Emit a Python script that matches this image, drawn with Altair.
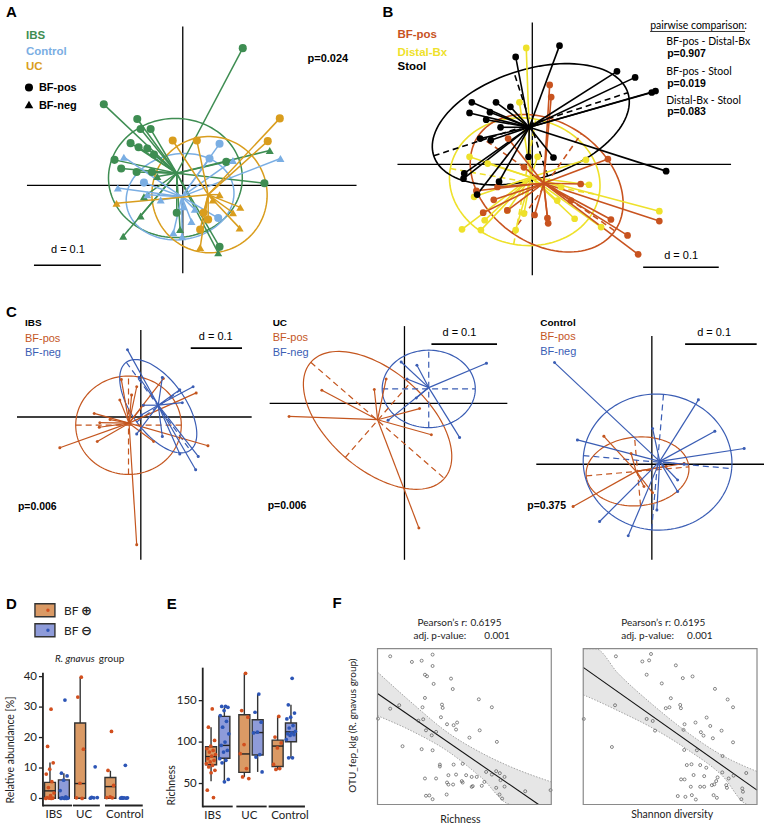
import json
import numpy as np
import pandas as pd
import altair as alt

# ====================== DATA ======================
# Panel A: PCoA coordinates (units of 0.01)
A_groups = ["IBS", "Control", "UC"]
A_colors = ["#3e8d52", "#7aaee3", "#d99d1d"]
A_IBS_pos_x = [8.97, -11.8, -6.8, -6.3, -4.8, -7.8, -6.6, -5.3, -4.3, -10.2, -9.2, -6.9, -4.6, 6.5, 12.2, 5.5, -0.9]
A_IBS_pos_y = [20.5, 12.1, 9.9, 8.4, 8.4, 6.3, 5.7, 5.5, 4.6, 3.8, 2.5, 2.0, 2.0, 3.5, 0.3, -9.2, -4.1]
A_IBS_neg_x = [13.0, -8.9, -6.3, 5.3, -0.4, -5.8, -3.8]
A_IBS_neg_y = [5.2, -7.6, -4.6, -10.1, -6.6, -1.7, 1.3]
A_Control_pos_x = [5.5, 4.0, -5.8, 5.3]
A_Control_pos_y = [6.2, 4.0, 0.4, -4.9]
A_Control_neg_x = [14.6, -8.8, -9.7, -5.3, 7.5, -1.4, -0.1, 1.3, 0.1, 1.8, -3.3]
A_Control_neg_y = [4.0, 4.2, -0.4, -1.4, 3.7, -7.1, -7.7, -5.4, -3.2, -3.6, -2.2]
A_UC_pos_x = [14.5, -1.5, 2.1, 12.7, 2.6, 3.8, 3.1]
A_UC_pos_y = [10.0, 6.7, 6.7, 6.6, -6.6, -5.1, -4.1]
A_UC_neg_x = [-9.9, 8.6, 8.5, 2.6, 5.5, 4.5, 7.5]
A_UC_neg_y = [-2.7, -3.3, -6.4, -9.3, -1.4, -2.2, -4.1]
A_centroids = {"IBS": (-0.9, 1.8), "Control": (-0.15, -1.7), "UC": (3.8, -1.4)}
A_ellipses = {"IBS": (-1.1, 1.1, 10.0, 8.9, 0), "Control": (-0.4, -1.7, 8.1, 6.4, 10), "UC": (4.0, -1.4, 8.6, 8.7, 20)}

# Panel B
B_groups = ["Distal-Bx", "BF-pos", "Stool"]
B_colors = ["#eee12b", "#c8531f", "#000000"]
B_stool_x = [3.6, -2.2, 11.2, 13.6, 15.8, 16.3, -8.0, -4.8, -2.9, -8.3, -5.6, -6.1, -4.2, -6.9, -5.5, -0.5, 2.8, 17.7, -9.0, -9.1, -7.3, -4.4]
B_stool_y = [15.7, 14.2, 12.3, 11.5, 9.5, 9.7, 8.2, 8.2, 7.6, 6.8, 6.9, 5.9, 4.9, 3.4, 3.2, 1.0, 0.9, -0.9, -1.2, -1.9, -4.0, -2.3]
B_distal_x = [-0.8, -1.7, -8.3, -5.9, 7.1, 7.5, 3.8, 16.8, 9.1, 5.6, -1.1, -2.2, -6.3, -6.8, -9.3, -7.7, 3.3, -3.3, 0.7]
B_distal_y = [15.4, 8.2, 1.0, 0.1, 0.6, -2.7, -3.0, -6.2, -8.3, -7.2, -6.5, -8.7, -7.4, -8.7, -8.6, -4.3, -4.8, -6.1, 1.0]
B_pos_x = [2.3, 2.5, -3.2, 10.0, 6.4, 10.4, 16.8, 12.6, 14.0, 0.3, 2.0, 2.1, -3.3, -5.1, -6.5, -7.4, 5.1, -4.6, -1.1]
B_pos_y = [10.5, 8.9, 3.4, 0.7, -2.6, -7.3, -7.5, -9.4, -11.9, -6.7, -7.1, -7.8, -6.1, -4.7, -6.4, -3.5, -4.8, -3.0, -0.4]
B_centroids = {"Stool": (-0.4, 4.9), "Distal-Bx": (-0.2, -1.7), "BF-pos": (1.5, -2.5)}
B_ellipses = {"Stool": (-0.2, 5.3, 13.5, 7.2, 18), "BF-pos": (1.9, -2.5, 11.0, 8.0, -35), "Distal-Bx": (-1.0, -2.3, 10.0, 8.4, -10)}

# Panel C
C_groups = ["BF-pos", "BF-neg"]
C_colors = ["#c4561f", "#3a5db4"]
C1_pos_x = [-15.8, -9.1, -8.0, -8.1, -8.5, -6.0, -3.8, -1.8, -0.8, 4.4, 2.5, 13.1, 10.8, -0.8, 0.5, -4.1]
C1_pos_y = [-6.0, 0.7, -1.1, -2.0, -4.8, -0.5, 7.3, 4.3, 5.9, 7.5, -4.8, -5.6, 4.7, -24.9, 2.3, 3.3]
C1_neg_x = [-2.6, -0.3, 4.2, 7.6, 10.2, 8.1, 0.1, -0.8, 4.2, 7.6, 11.2, 10.7, 0.5]
C1_neg_y = [13.1, 7.7, 7.7, 5.3, 5.9, 2.8, 0.4, -3.3, -3.8, -7.2, -7.7, -10.3, 2.3]
C1_centroids = {"BF-pos": (-2.3, -1.2), "BF-neg": (3.4, 2.3)}
C1_ellipses = {"BF-pos": (-2.4, -1.6, 10.3, 9.6, 0), "BF-neg": (3.4, 2.1, 10.6, 5.2, -54)}
C2_pos_x = [-17.6, -12.6, -4.6, -2.8, 2.3, 4.1, 2.2]
C2_pos_y = [-2.0, 2.0, 2.1, 3.7, -0.8, -4.8, -19.0]
C2_neg_x = [-0.5, 1.9, 0.4, 12.5, 8.4, -2.5, 1.8]
C2_neg_y = [6.3, 5.8, 3.7, 6.1, -5.2, -2.6, 0.8]
C2_centroids = {"BF-pos": (-4.1, -2.5), "BF-neg": (3.7, 2.4)}
C2_ellipses = {"BF-pos": (-4.1, -2.6, 13.5, 7.5, -41), "BF-neg": (3.7, 2.2, 7.1, 5.9, 0)}
C3_pos_x = [-11.0, -6.7, 0.1, 4.5, -2.9, 2.0, -1.1]
C3_pos_y = [-5.9, 3.9, -4.0, 0.1, 1.5, -0.3, -3.1]
C3_neg_x = [-13.6, -10.4, 0.1, 6.5, 8.8, 12.9, 3.6, 3.6, 0.7, -7.3, -3.3, 4.5]
C3_neg_y = [14.2, 3.4, 5.0, 9.0, 4.6, 2.2, -2.2, -3.8, -6.4, -8.0, -10.0, 0.0]
C3_centroids = {"BF-pos": (-2.2, -1.0), "BF-neg": (1.1, 0.4)}
C3_ellipses = {"BF-pos": (-2.0, -1.0, 7.2, 4.8, 5), "BF-neg": (0.8, 0.3, 10.4, 9.5, -5)}

# Panel D / E
BOX_GROUPS = ["IBS", "UC", "Control"]
D_vals = {
    ("IBS", "pos"): [29.3, 17.1, 11.7, 9.6, 8.0, 5.5, 3.6, 1.8, 0.9, 0.3, 0.1, 0.1, 0.0, 0.0],
    ("IBS", "neg"): [32.3, 8.3, 7.4, 6.0, 2.6, 0.5, 0.2, 0.1, 0.0, 0.0, 0.0],
    ("UC", "pos"): [39.8, 33.3, 16.2, 5.0, 0.2, 0.0],
    ("UC", "neg"): [10.4, 0.4, 0.3, 0.2, 0.1],
    ("Control", "pos"): [22.0, 9.2, 4.3, 0.5, 0.3, 0.2],
    ("Control", "neg"): [10.9, 0.3, 0.2, 0.2, 0.1, 0.1, 0.1],
}
# group, bf, lo, q1, median, q3, hi
D_stats = [("IBS", "pos", 0.0, 0.1, 2.5, 5.3, 11.8), ("IBS", "neg", 0.0, 0.1, 0.3, 6.1, 8.3),
           ("UC", "pos", 0.0, 0.1, 4.9, 24.8, 39.8), ("Control", "pos", 0.0, 0.1, 3.9, 6.9, 9.1)]
D_ticks = [0, 10, 20, 30, 40]
E_vals = {
    ("IBS", "pos"): [140, 118, 102, 95, 92, 90, 88, 85, 83, 80, 78, 76, 74, 72, 70, 66, 63, 42, 33],
    ("IBS", "neg"): [143, 143, 142, 138, 132, 125, 118, 110, 100, 96, 90, 88, 80, 78, 75, 55, 52],
    ("UC", "pos"): [183, 138, 130, 97, 86, 68, 58, 56],
    ("UC", "neg"): [158, 136, 124, 112, 111, 85, 82, 64],
    ("Control", "pos"): [131, 106, 99, 93, 73, 68, 67],
    ("Control", "neg"): [177, 145, 135, 130, 128, 120, 117, 113, 111, 110, 109, 108, 103, 81, 81],
}
E_stats = [("IBS", "pos", 52.8, 72.6, 82.5, 94.4, 118), ("IBS", "neg", 50.8, 80.5, 96, 131, 142),
           ("UC", "pos", 58, 63.5, 85.7, 133, 182.5), ("UC", "neg", 64, 84.5, 111.5, 127, 158),
           ("Control", "pos", 66.7, 70.6, 95.2, 102.4, 131.7), ("Control", "neg", 80.5, 100.4, 112.3, 123, 145)]
E_ticks = [50, 100, 150]

# Panel F (relative scales 0-100)
F1_x = [7.3, 19.8, 25.4, 31.7, 31.7, 27.3, 28.5, 42.3, 32.3, 43.3, 27.3, 58.3, 65.8, 12.5, 7.3, 25.9, 37.1, 37.5, 0.3,
        23.5, 26.3, 36.5, 27.9, 31.2, 33.7, 40.0, 43.8, 45.8, 45.2, 52.9, 58.8, 68.7, 14.4, 25.4, 31.7, 35.9, 35.9, 43.8,
        49.0, 27.3, 33.7, 40.8, 45.2, 51.0, 54.2, 40.8, 48.5, 49.0, 54.2, 54.8, 57.1, 60.0, 61.5, 62.5, 65.8, 68.3, 70.4,
        70.8, 73.1, 68.3, 73.1, 70.2, 71.7, 85.0, 27.9, 29.8, 31.7, 39.8, 99.6, 43.5, 40.0]
F1_y = [95.1, 91.5, 92.3, 96.2, 88.9, 83.3, 82.3, 80.8, 77.4, 74.1, 68.4, 67.5, 62.4, 63.7, 61.5, 62.4, 64.1, 62.0, 55.1,
        53.8, 54.7, 56.0, 47.6, 44.4, 46.6, 51.5, 50.9, 52.6, 48.1, 42.9, 47.6, 40.2, 37.4, 35.5, 34.8, 25.6, 24.4, 25.6,
        26.1, 16.7, 16.7, 18.8, 19.2, 18.8, 17.7, 12.8, 15.0, 14.1, 11.3, 11.8, 17.7, 12.0, 14.5, 20.9, 19.2, 21.4, 20.1,
        15.6, 17.7, 10.7, 11.5, 6.4, 3.8, 8.5, 5.6, 5.8, 3.4, 6.4, 9.2, 12.8, 14.1]
F1_band_x = [0, 20, 40, 60, 77, 100]
F1_band_lo = [57.0, 47.0, 34.5, 17.0, 0.0, 0.0]
F1_band_hi = [85.0, 65.0, 46.5, 33.0, 24.0, 14.5]
F1_fit_x = [0, 92.7]
F1_fit_y = [71.2, 0.0]
F2_x = [18.8, 34.0, 37.9, 39.0, 53.3, 36.5, 57.3, 62.9, 45.2, 75.8, 50.4, 83.1, 86.2, 47.5, 49.6, 55.8, 56.2, 18.3, 0.3,
        36.5, 40.0, 41.3, 58.3, 64.6, 71.0, 73.1, 67.7, 69.2, 74.6, 79.6, 86.2, 57.7, 65.4, 58.1, 16.5, 80.2, 59.6, 62.3,
        67.3, 70.8, 63.5, 69.6, 77.3, 80.0, 83.7, 86.5, 93.8, 56.3, 58.3, 76.5, 82.3, 82.7, 74.0, 75.4, 61.9, 67.3, 69.6,
        91.5, 91.9, 62.5, 58.8, 54.4, 64.8, 75.0, 76.9, 91.0]
F2_y = [95.1, 91.8, 92.5, 96.6, 89.3, 83.3, 81.1, 82.2, 77.7, 74.2, 68.2, 67.4, 62.4, 61.8, 62.4, 63.9, 61.8, 63.7, 54.9,
        54.9, 53.6, 47.4, 51.5, 52.6, 55.8, 50.4, 46.4, 44.2, 42.5, 47.4, 39.9, 47.9, 34.8, 35.0, 36.9, 31.1, 25.3, 25.8,
        25.3, 23.6, 18.9, 18.2, 17.4, 20.6, 16.7, 18.5, 20.2, 16.1, 16.1, 15.0, 12.4, 10.7, 12.4, 12.9, 11.4, 11.4, 11.4,
        10.3, 8.2, 6.0, 4.9, 5.4, 3.2, 6.0, 4.3, 3.4]
F2_band_x = [0, 7, 20, 40, 60, 80, 95, 100]
F2_band_lo = [70.4, 67.0, 60.2, 49.0, 35.2, 18.5, 0.0, 0.0]
F2_band_hi = [100.0, 100.0, 84.2, 64.0, 46.2, 31.5, 23.5, 21.2]
F2_fit_x = [0, 100]
F2_fit_y = [88.0, 9.2]

# ====================== HELPERS ======================
ONE = pd.DataFrame({"k": [0]})
ARIAL = "Liberation Sans"
MYRIAD = "Lato"


def txt(s, x, y, size=11, color="#000", bold=False, font=ARIAL, align="left",
        italic=False, angle=0, baseline="alphabetic"):
    kw = dict(align=align, baseline=baseline, fontSize=size, font=font, color=color,
              fontWeight="bold" if bold else "normal",
              fontStyle="italic" if italic else "normal")
    if angle:
        kw["angle"] = angle
    return alt.Chart(ONE).mark_text(**kw).encode(x=alt.value(x), y=alt.value(y), text=alt.value(s))


def pts_frame(specs):
    rows = []
    for grp, shp, xs, ys in specs:
        for u, v in zip(xs, ys):
            rows.append(dict(grp=grp, shp=shp, x=u, y=v))
    return pd.DataFrame(rows)


def ordination(pts, cents, ells, order, colors, W, H, ox, oy, ppu, vext, hext,
               bar_px, bar_y, psize, lw, dashed, shapes=False):
    xs = alt.Scale(domain=[-ox / ppu, (W - ox) / ppu], nice=False, zero=False)
    ys = alt.Scale(domain=[(oy - H) / ppu, oy / ppu], nice=False, zero=False)

    def X(f):
        return alt.X(f, scale=xs, axis=None)

    def Y(f):
        return alt.Y(f, scale=ys, axis=None)

    col = alt.Color("grp:N", scale=alt.Scale(domain=order, range=colors), legend=None)
    rank = {g: i for i, g in enumerate(order)}
    df = pts.copy()
    df["cx"] = [cents[g][0] for g in df.grp]
    df["cy"] = [cents[g][1] for g in df.grp]
    df["r"] = [rank[g] for g in df.grp]
    df = df.sort_values("r", kind="stable")
    erows, arows = [], []
    for g in order:
        cx, cy, a, b, ang = ells[g]
        th = np.deg2rad(ang)
        t = np.linspace(0, 2 * np.pi, 121)
        ex = cx + a * np.cos(t) * np.cos(th) - b * np.sin(t) * np.sin(th)
        ey = cy + a * np.cos(t) * np.sin(th) + b * np.sin(t) * np.cos(th)
        erows += [dict(grp=g, i=i, x=u, y=v) for i, (u, v) in enumerate(zip(ex, ey))]
        c, s = np.cos(th), np.sin(th)
        arows.append(dict(grp=g, x=cx - a * c, y=cy - a * s, x2=cx + a * c, y2=cy + a * s))
        arows.append(dict(grp=g, x=cx + b * s, y=cy - b * c, x2=cx - b * s, y2=cy + b * c))
    zero = pd.DataFrame({"z": [0.0]})
    layers = [
        alt.Chart(zero).mark_rule(color="black", strokeWidth=1.3).encode(
            x=X("z:Q"), y=alt.value(vext[0]), y2=alt.value(vext[1])),
        alt.Chart(zero).mark_rule(color="black", strokeWidth=1.3).encode(
            y=Y("z:Q"), x=alt.value(hext[0]), x2=alt.value(hext[1])),
        alt.Chart(pd.DataFrame(erows)).mark_line(strokeWidth=lw).encode(
            x=X("x:Q"), y=Y("y:Q"), color=col, order="i:Q", detail="grp:N"),
    ]
    if dashed:
        layers.append(alt.Chart(pd.DataFrame(arows)).mark_rule(strokeWidth=lw, strokeDash=[6, 4]).encode(
            x=X("x:Q"), y=Y("y:Q"), x2="x2:Q", y2="y2:Q", color=col))
    layers.append(alt.Chart(df).mark_rule(strokeWidth=lw).encode(
        x=X("x:Q"), y=Y("y:Q"), x2="cx:Q", y2="cy:Q", color=col))
    if shapes:
        layers.append(alt.Chart(df).mark_point(filled=True, opacity=1, size=psize).encode(
            x=X("x:Q"), y=Y("y:Q"), color=col,
            shape=alt.Shape("shp:N", scale=alt.Scale(domain=["pos", "neg"], range=["circle", "triangle-up"]),
                            legend=None)))
    else:
        layers.append(alt.Chart(df).mark_circle(opacity=1, size=psize).encode(
            x=X("x:Q"), y=Y("y:Q"), color=col))
    x0 = (bar_px - ox) / ppu
    layers.append(alt.Chart(pd.DataFrame({"b0": [x0], "b1": [x0 + 10]})).mark_rule(
        color="black", strokeWidth=1.6).encode(x=X("b0:Q"), x2="b1:Q", y=alt.value(bar_y)))
    return layers


BOX_FILL = ["#da9a65", "#8e9bd9"]
DOT_COL = ["#d24f1e", "#2c55b6"]


def box_panel(vals, stats, ticks, ydom, yrange, xdom, xrange, off, half, ulo, uhi, lshift):
    gexpr = json.dumps(BOX_GROUPS)
    gi = f"indexof({gexpr}, datum.group)"
    xc = f"{gi} + (datum.bf == 'pos' ? {-off} : {off})"
    xs = alt.Scale(domain=xdom, range=xrange, nice=False, zero=False)
    ys = alt.Scale(domain=ydom, range=yrange, nice=False, zero=False)

    def X(f):
        return alt.X(f, scale=xs, axis=None)

    def Y(f):
        return alt.Y(f, scale=ys, axis=None)

    rows = []
    for (g, bf), vs in vals.items():
        for v in vs:
            rows.append(dict(group=g, bf=bf, v=v))
    pts = pd.DataFrame(rows)
    st = pd.DataFrame(stats, columns=["group", "bf", "lo", "q1", "med", "q3", "hi"])
    base = alt.Chart(st).transform_calculate(xc=xc).transform_calculate(
        xa=f"datum.xc - {half}", xb=f"datum.xc + {half}")
    grp = alt.Chart(pd.DataFrame({"group": BOX_GROUPS})).transform_calculate(
        gi=gi).transform_calculate(
        ua=f"datum.gi - {json.dumps(ulo)}[datum.gi]", ub=f"datum.gi + {json.dumps(uhi)}[datum.gi]",
        gl=f"datum.gi + {json.dumps(lshift)}[datum.gi]")
    tk = alt.Chart(pd.DataFrame({"t": ticks}))
    x0 = xrange[0]
    layers = [
        base.mark_rule(color="#333", strokeWidth=1.4).encode(x=X("xc:Q"), y=Y("lo:Q"), y2="hi:Q"),
        base.mark_rect(stroke="#333", strokeWidth=1.4).encode(
            x=X("xa:Q"), x2="xb:Q", y=Y("q1:Q"), y2="q3:Q",
            fill=alt.Fill("bf:N", scale=alt.Scale(domain=["pos", "neg"], range=BOX_FILL), legend=None)),
        base.mark_rule(color="#222", strokeWidth=1.4).encode(x=X("xa:Q"), x2="xb:Q", y=Y("med:Q")),
        alt.Chart(pts).transform_window(rn="row_number()", groupby=["group", "bf"]).transform_calculate(
            xc=xc).transform_calculate(xp="datum.xc + ((datum.rn * 0.618) % 1 - 0.5) * 0.3").mark_circle(
            size=14, opacity=1).encode(
            x=X("xp:Q"), y=Y("v:Q"),
            color=alt.Color("bf:N", scale=alt.Scale(domain=["pos", "neg"], range=DOT_COL), legend=None)),
        # axes
        grp.mark_rule(color="#222", strokeWidth=1.8).encode(x=X("ua:Q"), x2="ub:Q", y=alt.value(yrange[0])),
        grp.mark_text(align="center", baseline="alphabetic", fontSize=11.5, font=MYRIAD, color="#222").encode(
            x=X("gl:Q"), y=alt.value(yrange[0] + 13), text="group:N"),
        alt.Chart(ONE).mark_rule(color="#222", strokeWidth=1.8).encode(
            x=alt.value(x0), y=alt.value(yrange[1]), y2=alt.value(yrange[0] + 0.9)),
        tk.mark_rule(color="#222", strokeWidth=1.3).encode(x=alt.value(x0 - 4), x2=alt.value(x0), y=Y("t:Q")),
        tk.mark_text(align="right", baseline="middle", fontSize=11.5, font=MYRIAD, color="#222").encode(
            x=alt.value(x0 - 6), y=Y("t:Q"), text="t:Q"),
    ]
    return layers


def f_panel(px, py, bx, blo, bhi, fx, fy, xrange, yrange):
    xs = alt.Scale(domain=[0, 100], range=xrange, nice=False, zero=False, clamp=True)
    ys = alt.Scale(domain=[0, 100], range=yrange, nice=False, zero=False, clamp=True)
    band = pd.DataFrame({"x": bx, "lo": blo, "hi": bhi})
    X = alt.X("x:Q", scale=xs, axis=None)
    layers = [
        alt.Chart(band).mark_area(color="#e6e6e6", interpolate="monotone").encode(
            x=X, y=alt.Y("lo:Q", scale=ys, axis=None), y2="hi:Q"),
        alt.Chart(band).mark_line(color="#9a9a9a", strokeDash=[1.5, 1.5], strokeWidth=0.9,
                                  interpolate="monotone").encode(x=X, y=alt.Y("lo:Q", scale=ys, axis=None)),
        alt.Chart(band).mark_line(color="#9a9a9a", strokeDash=[1.5, 1.5], strokeWidth=0.9,
                                  interpolate="monotone").encode(x=X, y=alt.Y("hi:Q", scale=ys, axis=None)),
        alt.Chart(pd.DataFrame({"x": fx, "y": fy})).mark_line(color="#111", strokeWidth=1.1).encode(
            x=X, y=alt.Y("y:Q", scale=ys, axis=None)),
        alt.Chart(pd.DataFrame({"x": px, "y": py})).mark_point(
            shape="circle", filled=False, size=9, strokeWidth=0.7, color="#555", opacity=1).encode(
            x=X, y=alt.Y("y:Q", scale=ys, axis=None)),
        alt.Chart(ONE).mark_rect(fillOpacity=0, stroke="#8a8a8a", strokeWidth=1.2).encode(
            x=alt.value(xrange[0]), x2=alt.value(xrange[1]), y=alt.value(yrange[1]), y2=alt.value(yrange[0])),
    ]
    return layers


# ====================== PANEL A ======================
A_pts = pts_frame([
    ("IBS", "pos", A_IBS_pos_x, A_IBS_pos_y), ("IBS", "neg", A_IBS_neg_x, A_IBS_neg_y),
    ("Control", "pos", A_Control_pos_x, A_Control_pos_y), ("Control", "neg", A_Control_neg_x, A_Control_neg_y),
    ("UC", "pos", A_UC_pos_x, A_UC_pos_y), ("UC", "neg", A_UC_neg_x, A_UC_neg_y)])
A_layers = ordination(A_pts, A_centroids, A_ellipses, A_groups, A_colors, 380, 290, 183, 185, 6.7,
                      (26, 273), (27, 357), 34, 265, 65, 1.5, False, shapes=True)
A_text = [
    txt("A", 6, 16, 15, bold=True),
    txt("IBS", 26, 39, 11.5, A_colors[0], True),
    txt("Control", 26, 55, 11.5, A_colors[1], True),
    txt("UC", 26, 70, 11.5, A_colors[2], True),
    txt("BF-pos", 39, 91, 11, bold=True),
    txt("BF-neg", 39, 109, 11, bold=True),
    txt("p=0.024", 308, 62, 11, bold=True),
    txt("d = 0.1", 68, 253, 11, align="center"),
    alt.Chart(ONE).mark_point(filled=True, opacity=1, color="black", size=65, shape="circle").encode(
        x=alt.value(29), y=alt.value(87)),
    alt.Chart(ONE).mark_point(filled=True, opacity=1, color="black", size=75, shape="triangle-up").encode(
        x=alt.value(29), y=alt.value(104)),
]
panelA = alt.layer(*A_layers, *A_text).properties(width=380, height=290)

# ====================== PANEL B ======================
B_pts = pts_frame([("Distal-Bx", "pos", B_distal_x, B_distal_y), ("BF-pos", "pos", B_pos_x, B_pos_y),
                   ("Stool", "pos", B_stool_x, B_stool_y)])
B_layers = ordination(B_pts, B_centroids, B_ellipses, B_groups, B_colors, 380, 290, 148, 164, 7.57,
                      (22, 275), (13, 347), 259, 267, 45, 1.6, True)
B_text = [
    txt("B", -2, 16, 15, bold=True),
    txt("BF-pos", 13, 38, 11.5, B_colors[1], True),
    txt("Distal-Bx", 13, 56, 11.5, B_colors[0], True),
    txt("Stool", 13, 70, 11.5, "#000", True),
    txt("pairwise comparison:", 266, 28, 10.5, font=MYRIAD),
    alt.Chart(ONE).mark_rule(color="black", strokeWidth=0.8).encode(
        x=alt.value(266), x2=alt.value(361), y=alt.value(31)),
    txt("BF-pos - Distal-Bx", 282, 45, 10.5, font=MYRIAD),
    txt("p=0.907", 283, 57, 10.5, bold=True),
    txt("BF-pos - Stool", 282, 75, 10.5, font=MYRIAD),
    txt("p=0.019", 283, 87, 10.5, bold=True),
    txt("Distal-Bx - Stool", 282, 104, 10.5, font=MYRIAD),
    txt("p=0.083", 283, 115, 10.5, bold=True),
    txt("d = 0.1", 297, 259, 11, align="center"),
]
panelB = alt.layer(*B_layers, *B_text).properties(width=380, height=290)


# ====================== PANEL C ======================
def c_panel(px, py, nx, ny, cents, ells, W, ox, oy, ppu, vext, hext, bar_px, bar_y, texts):
    pts = pts_frame([("BF-pos", "pos", px, py), ("BF-neg", "neg", nx, ny)])
    layers = ordination(pts, cents, ells, C_groups, C_colors, W, 270, ox, oy, ppu, vext, hext,
                        bar_px, bar_y, 9, 1.2, True)
    return alt.layer(*layers, *texts).properties(width=W, height=270)


def c_labels(title, x, ys, dtext_x, dtext_y, p, px_, py_):
    return [txt(title, x, ys[0], 10, bold=True),
            txt("BF-pos", x, ys[1], 11, C_colors[0]),
            txt("BF-neg", x, ys[2], 11, C_colors[1]),
            txt("d = 0.1", dtext_x, dtext_y, 11, align="center"),
            txt(p, px_, py_, 10.5, bold=True)]


panelC1 = c_panel(C1_pos_x, C1_pos_y, C1_neg_x, C1_neg_y, C1_centroids, C1_ellipses, 255, 141, 127, 5.133,
                  (40, 270), (17, 252), 191, 58,
                  [txt("C", 6, 27, 15, bold=True)] + c_labels("IBS", 25, (36, 52, 66), 216, 50, "p=0.006", 18, 220))
panelC2 = c_panel(C2_pos_x, C2_pos_y, C2_neg_x, C2_neg_y, C2_centroids, C2_ellipses, 245, 145, 113.3, 6.567,
                  (36, 270), (10, 248), 172, 54,
                  c_labels("UC", 13, (36, 51, 66), 200, 46, "p=0.006", 8, 219))
panelC3 = c_panel(C3_pos_x, C3_pos_y, C3_neg_x, C3_neg_y, C3_centroids, C3_ellipses, 255, 142.7, 174.3, 7.167,
                  (46, 270), (27, 255), 176, 54,
                  c_labels("Control", 31, (36, 50, 65), 205, 46, "p=0.375", 18, 219))

# ====================== PANEL D ======================
D_layers = box_panel(D_vals, D_stats, D_ticks, [-2.3, 41.3], [245, 112], [-0.463, 2.843], [43, 143],
                     0.23, 0.18, [0.46, 0.47, 0.41], [0.5, 0.42, 0.84], [-0.1, -0.1, 0.25])
D_text = [
    txt("D", 6, 48, 15, bold=True),
    alt.Chart(ONE).mark_rect(fill=BOX_FILL[0], stroke="#333", strokeWidth=1.4).encode(
        x=alt.value(35), x2=alt.value(55), y=alt.value(43), y2=alt.value(56)),
    alt.Chart(ONE).mark_rect(fill=BOX_FILL[1], stroke="#333", strokeWidth=1.4).encode(
        x=alt.value(35), x2=alt.value(55), y=alt.value(63), y2=alt.value(76)),
    alt.Chart(ONE).mark_circle(color=DOT_COL[0], opacity=1, size=12).encode(x=alt.value(48), y=alt.value(49.5)),
    alt.Chart(ONE).mark_circle(color=DOT_COL[1], opacity=1, size=12).encode(x=alt.value(48), y=alt.value(69.5)),
    txt("BF", 64, 54, 12, "#222", font=MYRIAD),
    txt("⊕", 81, 54.5, 13, "#222", bold=True, font="DejaVu Sans"),
    txt("BF", 64, 74, 12, "#222", font=MYRIAD),
    txt("⊖", 81, 74.5, 13, "#222", bold=True, font="DejaVu Sans"),
    txt("R. gnavus", 55, 101, 10, "#222", italic=True, font=MYRIAD),
    txt("group", 99, 101, 10, "#222", font=MYRIAD),
    txt("Relative abundance [%]", 11, 243, 10.5, "#222", font=MYRIAD, angle=270, baseline="middle"),
]
panelD = alt.layer(*D_layers, *D_text).properties(width=160, height=245)

# ====================== PANEL E ======================
E_layers = box_panel(E_vals, E_stats, E_ticks, [22.3, 189.8], [246, 107], [-0.45, 2.91], [43, 155],
                     0.2, 0.165, [0.45, 0.44, 0.47], [0.45, 0.47, 0.62], [-0.15, -0.05, 0.17])
E_text = [
    txt("E", 7, 48, 15, bold=True),
    txt("Richness", 12, 245, 10.5, "#222", font=MYRIAD, angle=270, baseline="middle"),
]
panelE = alt.layer(*E_layers, *E_text).properties(width=160, height=246)

# ====================== PANEL F ======================
F1_text = [
    txt("F", 13, 47, 15, bold=True),
    txt("Pearson’s r:", 98, 65, 10, "#222", font=MYRIAD),
    txt("0.6195", 151, 65, 10, "#222", font=MYRIAD),
    txt("adj. p-value:", 94, 78, 10, "#222", font=MYRIAD),
    txt("0.001", 165, 78, 10, "#222", font=MYRIAD),
    txt("Richness", 141, 263, 10.5, "#222", font=MYRIAD, align="center"),
    txt("OTU_fep_klg    (R. gnavus group)", 33, 165, 10, "#222", font=MYRIAD, angle=270,
        align="center", baseline="middle"),
]
F2_text = [
    txt("Pearson’s r:", 52, 65, 10, "#222", font=MYRIAD),
    txt("0.6195", 105, 65, 10, "#222", font=MYRIAD),
    txt("adj. p-value:", 52, 78, 10, "#222", font=MYRIAD),
    txt("0.001", 118, 78, 10, "#222", font=MYRIAD),
    txt("Shannon diversity", 103, 258, 10.5, "#222", font=MYRIAD, align="center"),
]
panelF1 = alt.layer(*f_panel(F1_x, F1_y, F1_band_x, F1_band_lo, F1_band_hi, F1_fit_x, F1_fit_y,
                             [58, 232], [244, 88]), *F1_text).properties(width=250, height=245)
panelF2 = alt.layer(*f_panel(F2_x, F2_y, F2_band_x, F2_band_lo, F2_band_hi, F2_fit_x, F2_fit_y,
                             [14, 188], [244, 88]), *F2_text).properties(width=195, height=245)

# ====================== LAYOUT ======================
FL = "flush"
IND = dict(color="independent", fill="independent", shape="independent")
row1 = alt.hconcat(panelA, panelB, spacing=5, bounds=FL).resolve_scale(**IND)
row2 = alt.hconcat(panelC1, panelC2, panelC3, spacing=5, bounds=FL).resolve_scale(**IND)
row3 = alt.hconcat(panelD, panelE, panelF1, panelF2, spacing=0, bounds=FL).resolve_scale(**IND)

chart = alt.vconcat(row1, row2, row3, spacing=0, padding=0).resolve_scale(**IND).configure_view(strokeWidth=0)
chart.save("out.html", embed_options={"renderer": "svg", "actions": False})
